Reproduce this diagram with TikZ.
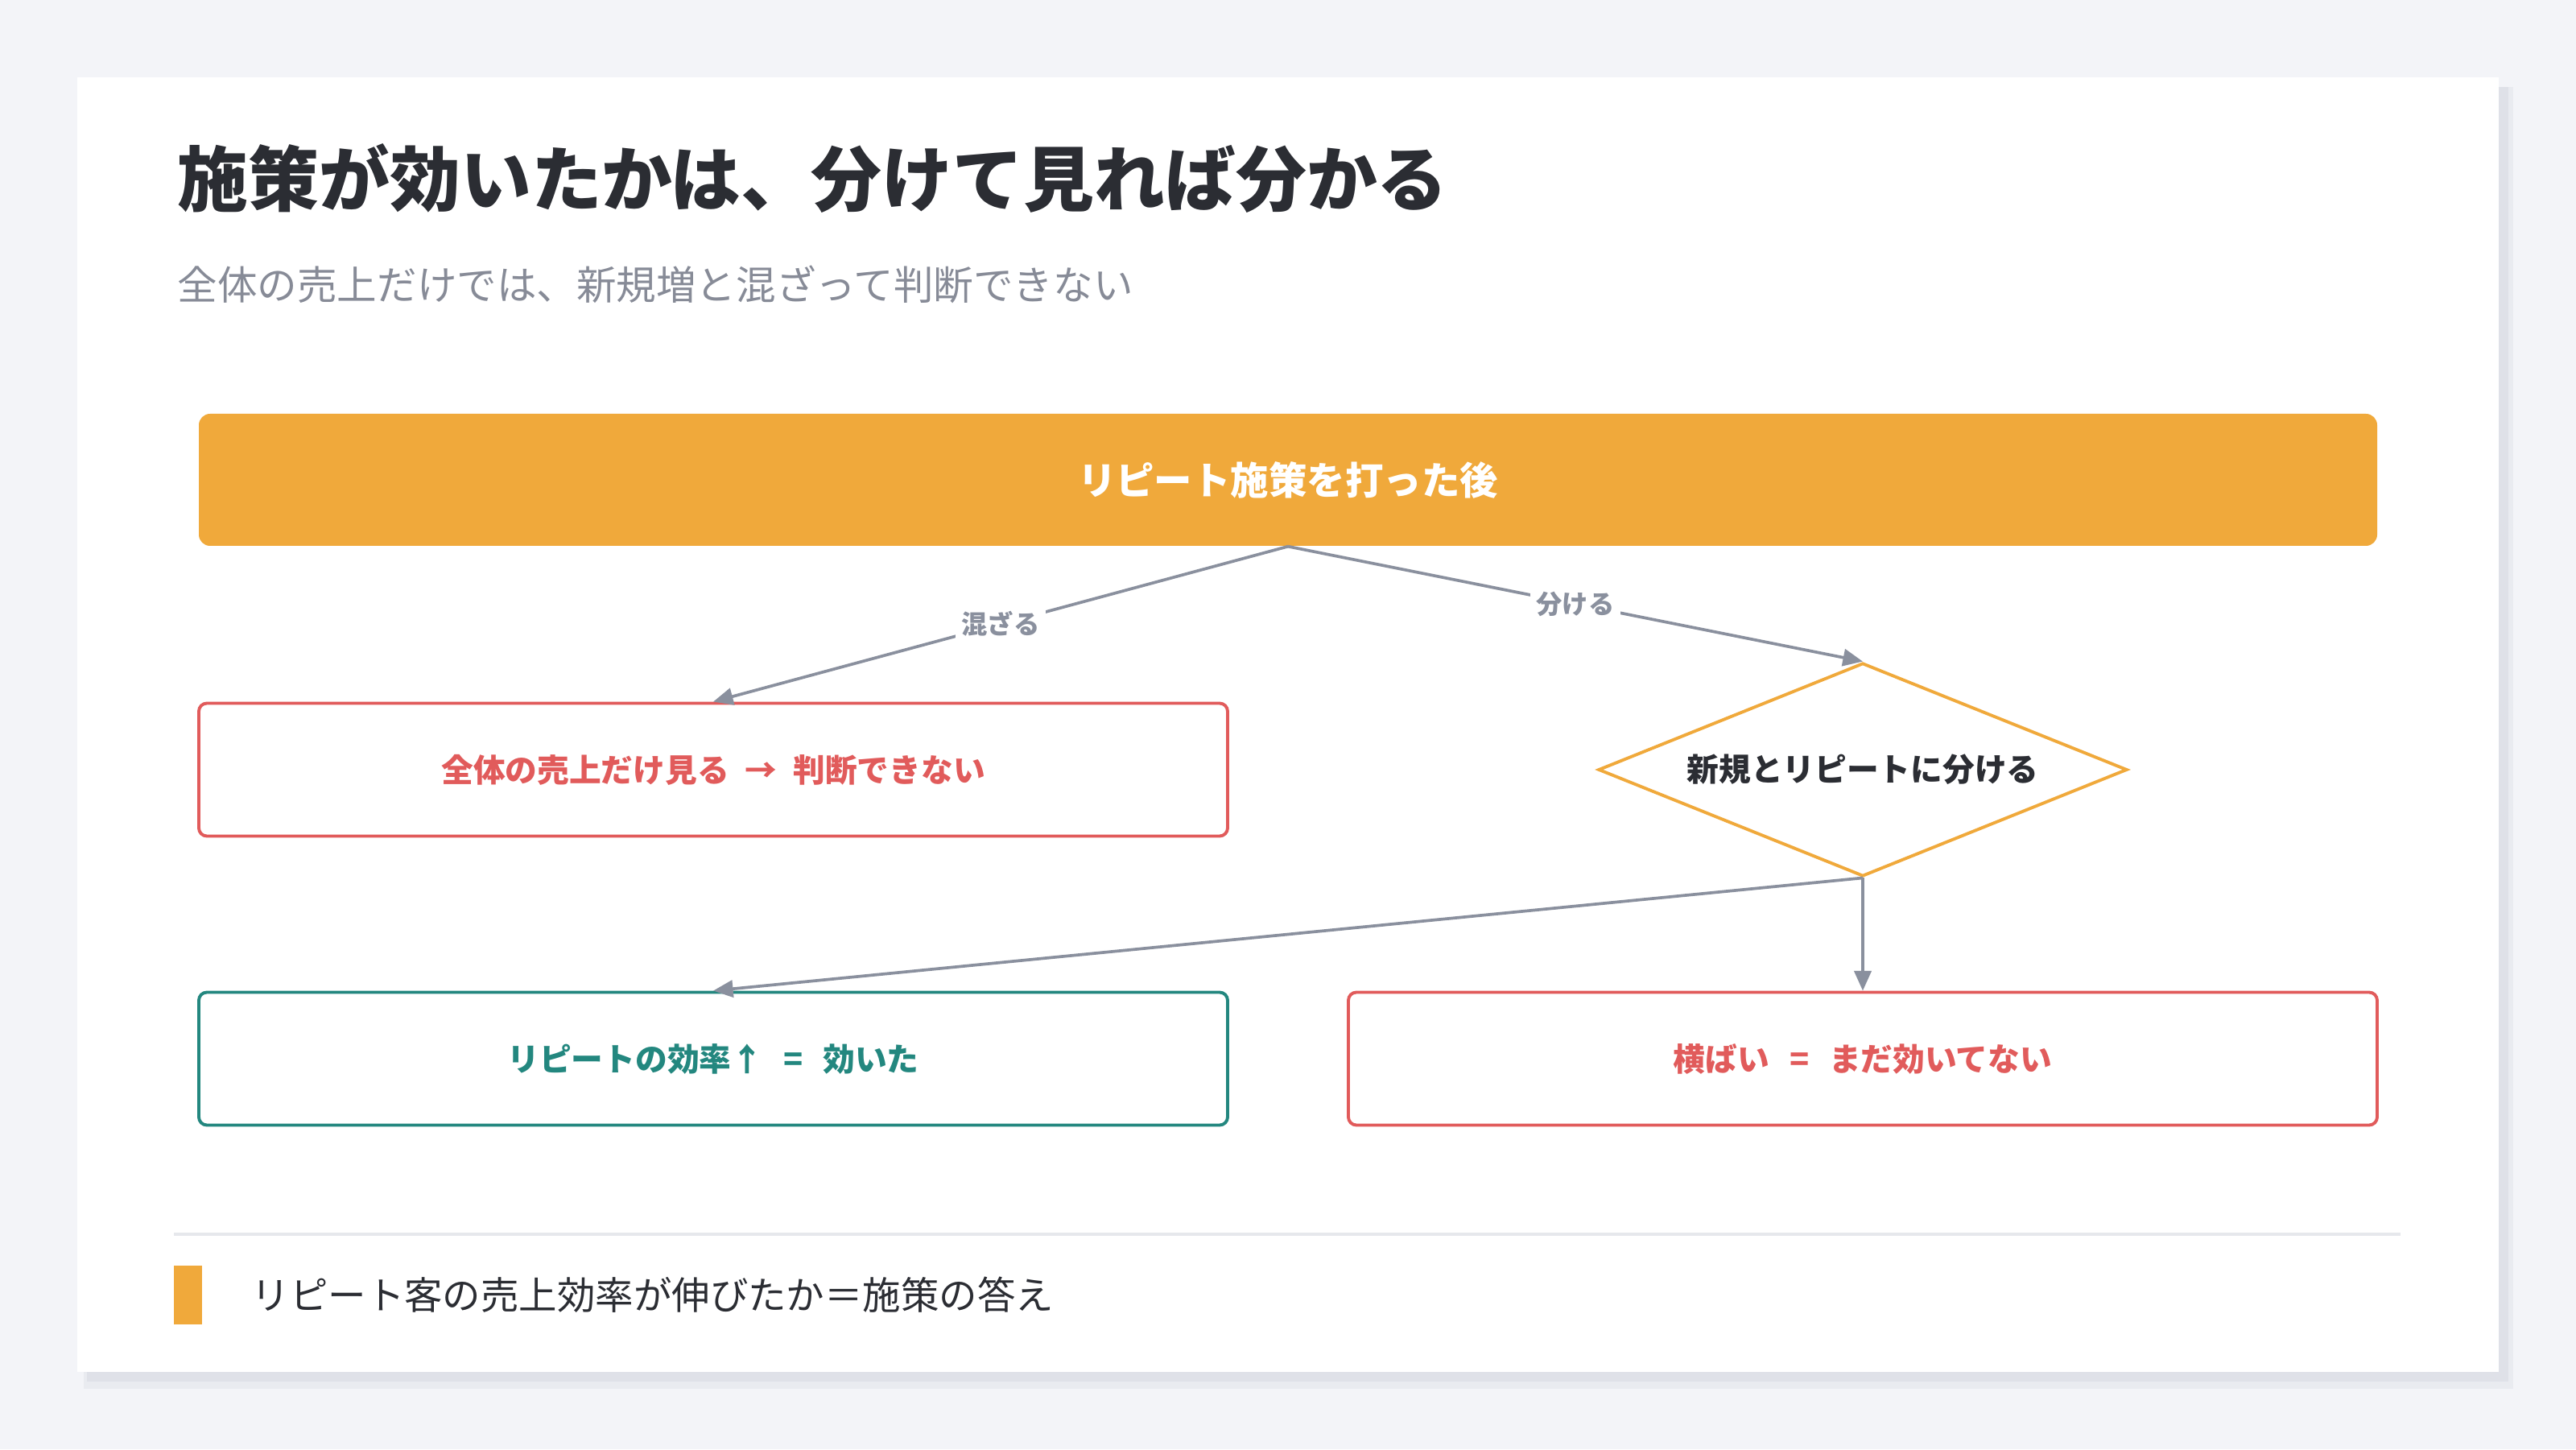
\documentclass[tikz,border=0pt]{standalone}
\usepackage{fontspec}
\setmainfont{Noto Sans CJK JP}
\usetikzlibrary{shapes.geometric,arrows.meta}

\definecolor{haikei}{HTML}{F3F4F8}
\definecolor{kage}{HTML}{DFE1E8}
\definecolor{kageusu}{HTML}{E9EBF0}
\definecolor{sumi}{HTML}{2B2D33}
\definecolor{usuzumi}{HTML}{878B97}
\definecolor{daidai}{HTML}{F0A93B}
\definecolor{aka}{HTML}{E15B5B}
\definecolor{aomidori}{HTML}{23877F}
\definecolor{hai}{HTML}{8A909E}
\definecolor{sen}{HTML}{E6E8EC}

\newcommand{\aki}{\hspace{0.25cm}}

\begin{document}
\begin{tikzpicture}[>={Triangle[length=7pt,width=6pt]},
	hako/.style={draw=#1, text=#1, line width=1.1pt, rounded corners=0.1cm, fill=white,
		minimum width=12.78cm, minimum height=1.65cm,
		font=\fontsize{11.3}{13}\selectfont\bfseries},
	yajirushi/.style={->, draw=hai, line width=1.05pt},
	raberu/.style={fill=white, text=hai, inner sep=2pt, font=\fontsize{9.2}{11}\selectfont\bfseries}]
	
	% 背景とカード
	\fill[haikei] (0,0) rectangle (32,18);
	\fill[kageusu] (1.04,0.75) rectangle (31.22,16.92);
	\fill[kage] (1.08,0.84) rectangle (31.16,16.92);
	\fill[white] (0.96,0.96) rectangle (31.04,17.04);
	
	% 見出し
	\node[anchor=west, inner sep=0, text=sumi, font=\fontsize{25}{28}\selectfont\bfseries] (midashi) at (2.20,15.78) {施策が効いたかは、分けて見れば分かる};
	\node[anchor=west, inner sep=0, text=usuzumi, font=\fontsize{14.1}{16}\selectfont] (komidashi) at (2.20,14.47) {全体の売上だけでは、新規増と混ざって判断できない};
	
	% 上の帯
	\node[fill=daidai, text=white, rounded corners=0.14cm, minimum width=27.06cm, minimum height=1.64cm,
		font=\fontsize{13.5}{15}\selectfont\bfseries] (ato) at (16.00,12.04) {リピート施策を打った後};
	
	% 箱とひし形
	\node[hako=aka] (mazeru) at (8.86,8.44) {全体の売上だけ見る\hspace{0.2cm}→\hspace{0.2cm}判断できない};
	\node[diamond, draw=daidai, line width=1.1pt, fill=white, inner sep=0, aspect=2.5,
		minimum width=6.57cm, minimum height=2.65cm, text=sumi,
		font=\fontsize{11.3}{13}\selectfont\bfseries] (wakeru) at (23.14,8.44) {新規とリピートに分ける};
	\node[hako=aomidori] (kiita) at (8.86,4.85) {リピートの効率↑\aki=\aki 効いた};
	\node[hako=aka] (yokobai) at (23.14,4.85) {横ばい\aki=\aki まだ効いてない};
	
	% 矢印
	\draw[yajirushi] (ato.south) -- (mazeru.north) node[midway, raberu] {混ざる};
	\draw[yajirushi] (ato.south) -- (wakeru.north) node[midway, raberu] {分ける};
	\draw[yajirushi] (wakeru.south) -- (kiita.north);
	\draw[yajirushi] (wakeru.south) -- (yokobai.north);
	
	% まとめ
	\draw[sen, line width=1pt] (2.16,2.67) -- (29.82,2.67);
	\fill[daidai] (2.16,1.55) rectangle (2.51,2.28);
	\node[anchor=west, inner sep=0, text=sumi, font=\fontsize{13.5}{15}\selectfont] (kotae) at (3.12,1.92) {リピート客の売上効率が伸びたか＝施策の答え};
	
\end{tikzpicture}
\end{document}
